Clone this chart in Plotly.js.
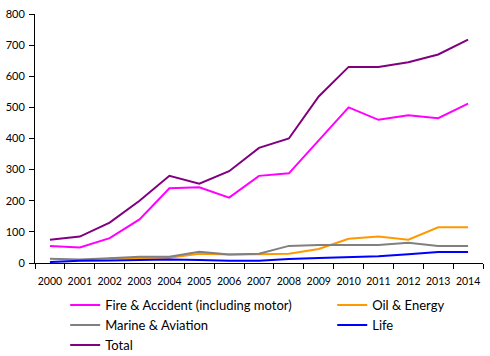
<!DOCTYPE html>
<html><head><meta charset="utf-8">
<script src="https://cdn.plot.ly/plotly-3.0.1.min.js"></script>
<style>body{margin:0;padding:0;background:#fff}#chart{width:490px;height:356px}</style>
</head><body><div id="chart"></div>
<script>
const years = ['2000','2001','2002','2003','2004','2005','2006','2007','2008','2009','2010','2011','2012','2013','2014'];
const fireAccident = [55, 50, 80, 140, 240, 243, 210, 280, 288, 393, 500, 460, 475, 465, 512];
const oilEnergy = [null, null, 15, 17, 17, 30, 27, 28, 30, 45, 78, 85, 75, 115, 115];
const marineAviation = [14, 11, 15, 20, 20, 36, 27, 30, 55, 58, 58, 58, 65, 55, 55];
const life = [3, 7, 8, 10, 11, 10, 7, 7, 13, 16, 18, 22, 28, 35, 35];
const total = [75, 85, 130, 200, 280, 255, 295, 370, 400, 535, 630, 630, 645, 670, 718];
const yTicks = [0,100,200,300,400,500,600,700,800];

function tr(name, y, color, lg){
  return {type:'scatter', mode:'lines', name:name, x:years, y:y,
          line:{color:color, width:2}, connectgaps:false, legend:lg};
}
const data = [
  tr('Fire & Accident (including motor)', fireAccident, '#ff00ff', 'legend'),
  tr('Oil & Energy', oilEnergy, '#ff9900', 'legend2'),
  tr('Marine & Aviation', marineAviation, '#808080', 'legend'),
  tr('Life', life, '#0000ff', 'legend2'),
  tr('Total', total, '#800080', 'legend')
];
const legFont = {family:'Lato, "DejaVu Sans", sans-serif', size:13, color:'#000'};
const layout = {
  width:490, height:356,
  margin:{l:35, r:7, t:14, b:93, autoexpand:false},
  paper_bgcolor:'#fff', plot_bgcolor:'#fff',
  font:{family:'Lato, "DejaVu Sans", sans-serif', size:11, color:'#000'},
  showlegend:true,
  xaxis:{type:'category', range:[-0.5,14.5], showline:true, linecolor:'#000', linewidth:1,
         ticks:'outside', ticklen:5, tickcolor:'#000', tickson:'boundaries',
         ticklabelstandoff:8,
         showgrid:false, zeroline:false, tickfont:{size:10.5}, tickangle:0},
  yaxis:{range:[0,800], tickvals:yTicks, showline:true, linecolor:'#000', linewidth:1,
         ticks:'outside', ticklen:5, tickcolor:'#000', showgrid:false, zeroline:false,
         ticklabelstandoff:2, tickfont:{size:11}},
  legend:{orientation:'v', xref:'container', yref:'container', x:0.133, y:0.185,
          xanchor:'left', yanchor:'top', font:legFont, itemwidth:30, tracegroupgap:0,
          bgcolor:'rgba(0,0,0,0)'},
  legend2:{orientation:'v', xref:'container', yref:'container', x:0.678, y:0.185,
          xanchor:'left', yanchor:'top', font:legFont, itemwidth:30, tracegroupgap:0,
          bgcolor:'rgba(0,0,0,0)'}
};
Plotly.newPlot('chart', data, layout, {displayModeBar:false, staticPlot:true});
</script></body></html>
